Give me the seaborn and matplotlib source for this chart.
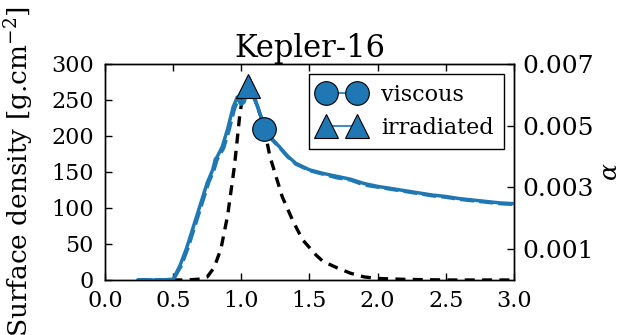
import numpy as np
import pandas as pd
import matplotlib
matplotlib.use("Agg")
import matplotlib.pyplot as plt
import seaborn as sns

# Radial profiles (r in AU)
r_visc = [0.24, 0.30, 0.40, 0.50, 0.55, 0.60, 0.65, 0.70, 0.75, 0.79, 0.81, 0.82,
          0.86, 0.90, 0.94, 0.97, 0.99, 1.01, 1.03, 1.05, 1.08, 1.12, 1.17, 1.22,
          1.28, 1.34, 1.40, 1.50, 1.60, 1.70, 1.80, 1.90, 2.00, 2.10, 2.20, 2.30,
          2.40, 2.50, 2.60, 2.70, 2.80, 2.90, 3.00]
sigma_visc = [0, 0, 0, 1, 20, 45, 75, 105, 135, 153, 168, 170,
              185, 210, 240, 254, 246, 248, 260, 270, 258, 241, 212, 197,
              185, 172, 162, 153, 148, 144, 140, 134, 130, 127, 124, 121,
              118, 116, 113, 111, 109, 107, 106]

r_irr = [0.24, 0.30, 0.40, 0.50, 0.56, 0.61, 0.66, 0.71, 0.76, 0.80, 0.82, 0.83,
         0.87, 0.91, 0.95, 0.98, 1.00, 1.02, 1.04, 1.06, 1.09, 1.12, 1.17, 1.22,
         1.28, 1.34, 1.40, 1.50, 1.60, 1.70, 1.80, 1.90, 2.00, 2.10, 2.20, 2.30,
         2.40, 2.50, 2.60, 2.70, 2.80, 2.90, 3.00]
sigma_irr = [0, 0, 0, 0, 20, 45, 75, 105, 135, 153, 166, 170,
             183, 208, 238, 252, 244, 247, 259, 268, 256, 240, 211, 196,
             184, 171, 161, 152, 147, 142, 139, 132, 129, 126, 123, 120,
             117, 115, 112, 110, 108, 106, 105]

r_alpha = [0.24, 0.40, 0.60, 0.70, 0.75, 0.80, 0.85, 0.90, 0.95, 0.99, 1.02,
           1.05, 1.08, 1.11, 1.16, 1.21, 1.30, 1.38, 1.45, 1.50, 1.55, 1.60,
           1.70, 1.80, 1.90, 2.00, 2.20, 2.50, 3.00]
alpha = [0.0, 0.0, 0.0, 0.00003, 0.0001, 0.0004, 0.001, 0.0021, 0.0037, 0.0054,
         0.0062, 0.0066, 0.0063, 0.0057, 0.0051, 0.0040, 0.0027, 0.0019, 0.0013,
         0.00105, 0.0008, 0.0006, 0.0004, 0.00022, 0.0001, 0.00005, 0.00002,
         0.0, 0.0]

# Marked positions of the two models
marker_labels = ["viscous", "irradiated"]
marker_r = [1.17, 1.05]
marker_sigma = [210, 269]
marker_shapes = ["o", "^"]

xticks = [0.0, 0.5, 1.0, 1.5, 2.0, 2.5, 3.0]
yticks = [0, 50, 100, 150, 200, 250, 300]
alpha_ticks = [0.001, 0.003, 0.005, 0.007]

sns.set_style("ticks")
plt.rcParams.update({
    "font.family": ["DejaVu Serif"],
    "mathtext.fontset": "dejavuserif",
    "font.size": 16,
    "xtick.direction": "in",
    "ytick.direction": "in",
    "xtick.major.size": 5,
    "ytick.major.size": 5,
    "axes.linewidth": 1.0,
    "xtick.color": "black",
    "ytick.color": "black",
    "axes.edgecolor": "black",
    "text.color": "black",
    "axes.labelcolor": "black",
})

blue = "#1f77b4"

fig = plt.figure(figsize=(6.23, 3.35), dpi=100)
ax = fig.add_axes([0.1685, 0.1642, 0.6565, 0.6448])
ax2 = ax.twinx()
# surface density axis drawn above the alpha axis
ax.set_zorder(ax2.get_zorder() + 1)
ax.patch.set_visible(False)

df_v = pd.DataFrame({"r": r_visc, "sigma": sigma_visc})
df_i = pd.DataFrame({"r": r_irr, "sigma": sigma_irr})
df_a = pd.DataFrame({"r": r_alpha, "alpha": alpha})

sns.lineplot(data=df_a, x="r", y="alpha", ax=ax2, color="black", lw=2.4,
             sort=False, estimator=None, linestyle=(0, (3, 2.2)))

sns.lineplot(data=df_v, x="r", y="sigma", ax=ax, color=blue, lw=2.5,
             sort=False, estimator=None)
sns.lineplot(data=df_i, x="r", y="sigma", ax=ax, color=blue, lw=2.5,
             sort=False, estimator=None, linestyle=(0, (4, 1.5)))

handles = []
for lab, xr, ys, mk in zip(marker_labels, marker_r, marker_sigma, marker_shapes):
    ln, = ax.plot([xr], [ys], marker=mk, ms=17, color=blue,
                  mec="black", mew=0.8, lw=1.2, linestyle="-", label=lab,
                  zorder=5)
    handles.append(ln)

ax.set_xlim(0, 3.0)
ax.set_ylim(0, 300)
ax2.set_ylim(0, 0.007)
ax.set_xticks(xticks)
ax.set_xticklabels([f"{t:.1f}" for t in xticks])
ax.set_yticks(yticks)
ax2.set_yticks(alpha_ticks)
ax2.set_yticklabels([f"{t:.3f}" for t in alpha_ticks])
ax.tick_params(axis="x", top=True, labelsize=16, width=1, pad=7)
ax.tick_params(axis="y", right=False, labelsize=16, width=1, pad=8)
ax2.tick_params(labelsize=18, width=1, pad=6)
ax.set_xlabel("")
ax.set_ylabel(r"Surface density [g.cm$^{-2}$]", fontsize=19, labelpad=11)
ax2.set_ylabel(r"$\alpha$", fontsize=18, labelpad=4)
ax.set_title("Kepler-16", fontsize=22, pad=4)

leg = ax.legend(handles=handles, labels=marker_labels, loc="upper right",
                numpoints=2, fontsize=16, handlelength=2.0, frameon=True,
                fancybox=False, borderaxespad=0.45, handletextpad=0.8,
                labelspacing=0.5, borderpad=0.45)
leg.get_frame().set_edgecolor("black")
leg.get_frame().set_linewidth(1.0)
leg.get_frame().set_alpha(1.0)

fig.savefig("out.png", dpi=100)
